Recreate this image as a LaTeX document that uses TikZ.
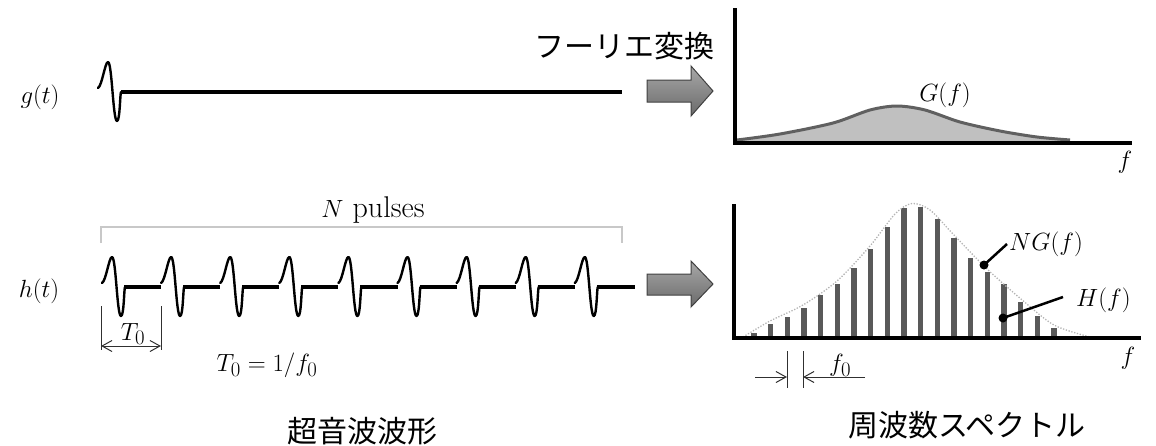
\documentclass[tikz,border=0pt]{standalone}
\usepackage{fontspec}
\newfontfamily\cjk{Noto Sans CJK JP}
\usetikzlibrary{arrows.meta}
\definecolor{arrowtop}{HTML}{A8A8A8}
\definecolor{arrowbot}{HTML}{6A6A6A}
\definecolor{arrowedge}{HTML}{404040}
\definecolor{curvefill}{HTML}{C0C0C0}
\definecolor{curveline}{HTML}{606060}
\definecolor{bargray}{HTML}{595959}
\definecolor{envgray}{HTML}{B4B4B4}
\definecolor{bracketgray}{HTML}{C8C8C8}
\definecolor{dimgray}{HTML}{303030}
\begin{document}
\begin{tikzpicture}[x=1pt,y=-1pt,
  lab/.style={font=\fontsize{30}{34}\selectfont, inner sep=0pt},
  jlab/.style={font=\cjk\fontsize{30}{34}\selectfont, inner sep=0pt},
  wave/.style={line width=2.4pt, line join=round, line cap=round},
  flat/.style={line width=4pt},
  axisline/.style={line width=4pt},
  blockarrow/.style={draw=arrowedge, line width=1pt, top color=arrowtop, bottom color=arrowbot},
  dimline/.style={line width=1pt, draw=dimgray},
  barb/.style={-{Straight Barb[length=10pt,width=11pt]}},
  leader/.style={line width=2.5pt},
  envelope/.style={draw=envgray, line width=1.3pt, dash pattern=on 1.3pt off 1.6pt},
  pulse/.pic={\draw[wave] (0,-4) .. controls (4,-6) and (7,-30) .. (10,-30)
     .. controls (14,-30) and (15,29) .. (19,29) .. controls (22,29) and (22,2) .. (23,0);}
]
\useasboundingbox (0,0) rectangle (1156,445);

% ---------- g(t) ----------
\node[lab] (gl) at (40,97) {$g(t)$};
\coordinate (g0) at (98,92);
\pic at (g0) {pulse};
\coordinate (gs) at (121,92);
\coordinate (ge) at (622,92);
\draw[flat] (gs) -- (ge);

% ---------- h(t) ----------
\node[lab] (hl) at (39,291) {$h(t)$};
\foreach \k in {0,...,8} {
  \pic at ({102+59.1*\k},287) {pulse};
}
\foreach \k in {0,...,7} {
  \draw[flat] ({124+59.1*\k},287) -- ({161.1+59.1*\k},287);
}
\coordinate (hs) at (596.8,287);
\coordinate (he) at (635,287);
\draw[flat] (hs) -- (he);

% bracket + N pulses
\draw[bracketgray, line width=1.5pt] (101,243) -- (101,227) -- (622,227) -- (622,243);
\node[lab] (np) at (373,210) {$N$ pulses};

% T0 dimension
\coordinate (ta) at (101,306); \coordinate (tb) at (101,350);
\coordinate (tc) at (161,306); \coordinate (td) at (161,350);
\draw[dimline] (ta) -- (tb);
\draw[dimline] (tc) -- (td);
\coordinate (tl) at (101,346); \coordinate (tr) at (161,346);
\draw[dimline, {Straight Barb[length=10pt,width=11pt]}-{Straight Barb[length=10pt,width=11pt]}] (tl) -- (tr);
\node[lab] (t0) at (133,334) {$T_0$};
\node[lab] (t0eq) at (267,365) {$T_0=1/f_0$};

% ---------- block arrows ----------
\draw[blockarrow] (647,80) -- (691,80) -- (691,66) -- (713,91) -- (691,116) -- (691,102) -- (647,102) -- cycle;
\draw[blockarrow] (647,274) -- (691,274) -- (691,261) -- (713,284) -- (691,307) -- (691,295) -- (647,295) -- cycle;
\node[jlab] (ft) at (624,46) {フーリエ変換};

% ---------- top spectrum ----------
\fill[curvefill] plot[smooth] coordinates {(737,140) (780,134) (833,123) (870,110) (897,106) (925,110) (960,122) (1000,131) (1037,137) (1070,140)} -- (1070,143) -- (737,143) -- cycle;
\draw[curveline, line width=3pt] plot[smooth] coordinates {(737,140) (780,134) (833,123) (870,110) (897,106) (925,110) (960,122) (1000,131) (1037,137) (1070,140)};
\coordinate (ax1t) at (735,8); \coordinate (ax1o) at (735,143); \coordinate (ax1r) at (1132,143);
\draw[axisline] (ax1t) -- (ax1o) -- (ax1r);
\node[lab] (gf) at (945,95) {$G(f)$};
\node[lab] (f1) at (1125,162) {$f$};

% ---------- bottom spectrum ----------
\foreach \t [count=\i from 0] in {333.3,324,316.7,307.7,295,284,267.7,249,226.7,207.7,206.7,219,237.7,258.3,271.7,284.3,301.7,315.7,327.7}
  \fill[bargray] ({754+16.67*\i-2.6},\t) rectangle ({754+16.67*\i+2.6},337);
\draw[envelope] plot[smooth] coordinates {(743,337) (770,321) (803,305) (837,281) (870,246) (895,214) (912,203.5) (930,210) (953,234) (986,268) (1021,299) (1054,325) (1090,337)};
\coordinate (ax2t) at (734,204); \coordinate (ax2o) at (734,338); \coordinate (ax2r) at (1141,338);
\draw[axisline] (ax2t) -- (ax2o) -- (ax2r);
\node[lab] (f2) at (1128,358) {$f$};

% NG(f) and H(f)
\coordinate (ngdot) at (984,265);
\fill (ngdot) circle (4.5);
\node[lab, anchor=west] (ng) at (1009,244) {$NG(f)$};
\draw[leader] (ngdot) -- ([xshift=-2pt]ng.west);
\coordinate (hdot) at (1003,318);
\fill (hdot) circle (4.5);
\node[lab, anchor=west] (hf) at (1076,300) {$H(f)$};
\coordinate (hend) at (1063,297);
\draw[leader] (hdot) -- (hend);

% f0 dimension
\coordinate (fa) at (755,377); \coordinate (fb) at (787,377);
\coordinate (fc) at (865,377); \coordinate (fd) at (803,377);
\draw[dimline, barb] (fa) -- (fb);
\draw[dimline, barb] (fc) -- (fd);
\coordinate (v1a) at (787,351); \coordinate (v1b) at (787,388);
\coordinate (v2a) at (803,351); \coordinate (v2b) at (803,388);
\draw[dimline] (v1a) -- (v1b);
\draw[dimline] (v2a) -- (v2b);
\node[lab] (f0) at (840,365) {$f_0$};

% ---------- captions ----------
\node[jlab] (cap1) at (362,431) {超音波波形};
\node[jlab] (cap2) at (967,425) {周波数スペクトル};
\end{tikzpicture}
\end{document}
